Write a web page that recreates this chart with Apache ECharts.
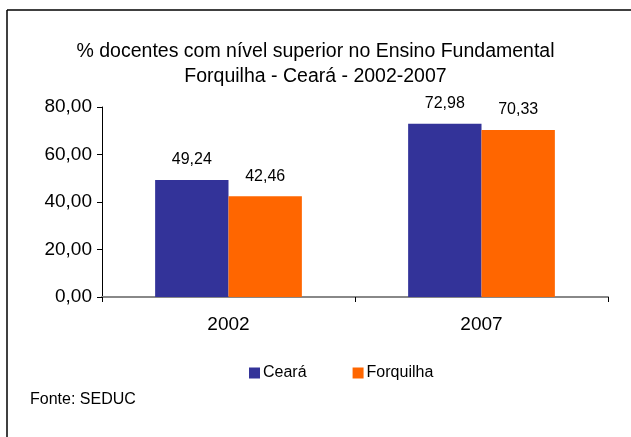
<!DOCTYPE html>
<html>
<head>
<meta charset="utf-8">
<script src="https://cdn.jsdelivr.net/npm/echarts@6/dist/echarts.min.js"></script>
<style>
  html, body { margin: 0; padding: 0; background: #fff; }
  #chart { width: 631px; height: 437px; }
</style>
</head>
<body>
<div id="chart"></div>
<script>
  // dados
  var years = ['2002', '2007']
  var ceara = [49.24, 72.98]
  var forquilha = [42.46, 70.33]
  var yTicks = [0, 20, 40, 60, 80]

  var fontFamily = '"Liberation Sans", Arial, sans-serif'

  function fmt(v) {
    return Number(v).toFixed(2).replace('.', ',')
  }

  var chart = echarts.init(document.getElementById('chart'))
  chart.setOption({
    animation: false,
    textStyle: { fontFamily: fontFamily, color: '#000' },
    title: {
      text: '% docentes com nível superior no Ensino Fundamental\nForquilha - Ceará - 2002-2007',
      left: 'center',
      top: 39,
      padding: 0,
      textStyle: { fontFamily: fontFamily, fontSize: 19.5, fontWeight: 'normal', color: '#000', lineHeight: 25 }
    },
    legend: {
      data: ['Ceará', 'Forquilha'],
      top: 365,
      left: 249,
      padding: 0,
      itemWidth: 11,
      itemHeight: 11,
      itemGap: 46,
      icon: 'rect',
      textStyle: { fontFamily: fontFamily, fontSize: 16, color: '#000', padding: [0, 0, 0, -2] }
    },
    graphic: [
      { type: 'line', shape: { x1: 7, y1: 10, x2: 631, y2: 10 }, style: { stroke: '#000', lineWidth: 1.5 } },
      { type: 'line', shape: { x1: 7, y1: 10, x2: 7, y2: 437 }, style: { stroke: '#000', lineWidth: 1.5 } },
      { type: 'text', left: 30, top: 392, style: { text: 'Fonte: SEDUC', font: '16px ' + fontFamily, fill: '#000' } }
    ],
    grid: { left: 102, right: 23, top: 107, bottom: 140, containLabel: false },
    xAxis: {
      type: 'category',
      data: years,
      axisLine: { lineStyle: { color: '#888', width: 2 } },
      axisTick: { show: true, alignWithLabel: false, length: 5, lineStyle: { color: '#000' } },
      axisLabel: { fontSize: 19, color: '#000', margin: 18 }
    },
    yAxis: {
      type: 'value',
      min: yTicks[0],
      max: yTicks[yTicks.length - 1],
      interval: 20,
      splitLine: { show: false },
      axisLine: { show: true, lineStyle: { color: '#000' } },
      axisTick: { show: true, length: 5, lineStyle: { color: '#000' } },
      axisLabel: { fontSize: 19, color: '#000', margin: 10, formatter: fmt }
    },
    series: [
      {
        name: 'Ceará',
        type: 'bar',
        data: ceara,
        barGap: '0%',
        barCategoryGap: '42%',
        itemStyle: { color: '#333399' },
        label: { show: true, position: 'top', distance: 12, fontSize: 16, color: '#000', formatter: function (p) { return fmt(p.value) } }
      },
      {
        name: 'Forquilha',
        type: 'bar',
        data: forquilha,
        itemStyle: { color: '#FF6600' },
        label: { show: true, position: 'top', distance: 12, fontSize: 16, color: '#000', formatter: function (p) { return fmt(p.value) } }
      }
    ]
  })
</script>
</body>
</html>
